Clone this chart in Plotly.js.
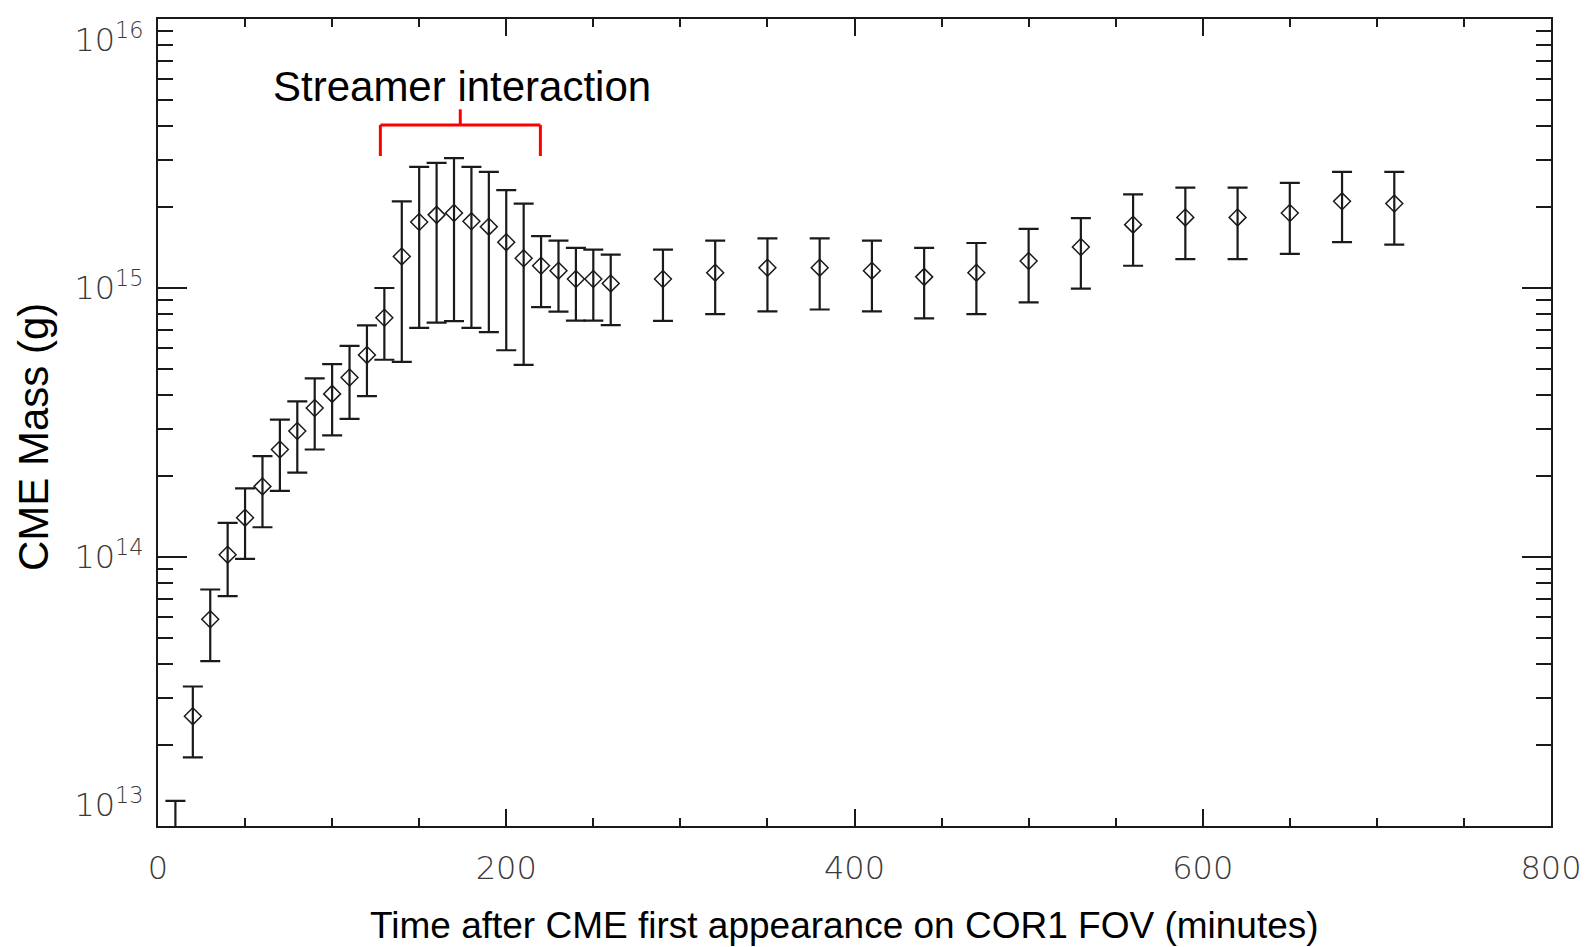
<!DOCTYPE html>
<html>
<head>
<meta charset="utf-8">
<script src="https://cdn.plot.ly/plotly-3.0.1.min.js"></script>
<style>
  html, body { margin: 0; padding: 0; background: #fff; }
  #chart { width: 1595px; height: 947px; }
</style>
</head>
<body>
<div id="chart"></div>
<script>
// Time after CME first appearance (minutes)
const timeMin = [10, 20, 30, 40, 50, 60, 70, 80, 90, 100, 110, 120, 130, 140, 150, 160, 170, 180, 190, 200,
                 210, 220, 230, 240, 250, 260, 290, 320, 350, 380, 410, 440, 470, 500, 530, 560, 590, 620, 650, 680, 710];
// CME mass (g), central value
const massG = [9e12, 2.56e13, 5.87e13, 1.02e14, 1.40e14, 1.83e14, 2.51e14, 2.94e14, 3.58e14, 4.04e14,
               4.65e14, 5.64e14, 7.75e14, 1.31e15, 1.76e15, 1.87e15, 1.90e15, 1.77e15, 1.69e15, 1.48e15,
               1.29e15, 1.21e15, 1.16e15, 1.08e15, 1.08e15, 1.04e15, 1.08e15, 1.14e15, 1.19e15, 1.19e15,
               1.16e15, 1.10e15, 1.14e15, 1.26e15, 1.42e15, 1.72e15, 1.83e15, 1.83e15, 1.90e15, 2.10e15, 2.06e15];
// Upper end of error bar (g)
const massUpper = [1.24e13, 3.30e13, 7.57e13, 1.34e14, 1.80e14, 2.37e14, 3.24e14, 3.79e14, 4.61e14, 5.21e14,
                   6.09e14, 7.26e14, 1.00e15, 2.10e15, 2.82e15, 2.92e15, 3.04e15, 2.82e15, 2.70e15, 2.31e15,
                   2.06e15, 1.56e15, 1.50e15, 1.41e15, 1.39e15, 1.33e15, 1.39e15, 1.50e15, 1.53e15, 1.53e15,
                   1.50e15, 1.41e15, 1.47e15, 1.66e15, 1.82e15, 2.23e15, 2.36e15, 2.36e15, 2.46e15, 2.70e15, 2.70e15];
// Lower end of error bar (g)
const massLower = [6e12, 1.80e13, 4.10e13, 7.15e13, 9.84e13, 1.29e14, 1.76e14, 2.06e14, 2.51e14, 2.83e14,
                   3.26e14, 3.96e14, 5.41e14, 5.31e14, 7.11e14, 7.43e14, 7.53e14, 7.11e14, 6.86e14, 5.87e14,
                   5.18e14, 8.49e14, 8.17e14, 7.56e14, 7.56e14, 7.28e14, 7.55e14, 8.00e14, 8.18e14, 8.32e14,
                   8.18e14, 7.71e14, 8.00e14, 8.84e14, 9.95e14, 1.21e15, 1.28e15, 1.28e15, 1.34e15, 1.48e15, 1.45e15];

const xTickVals = [0, 200, 400, 600, 800];
const yTickVals = [1e13, 1e14, 1e15, 1e16];
// edge labels are kept inside the frame, as in the original (bottom one raised, top one lowered)
const yTickText = ['10<sup>13</sup><br>&#8203;', '10<sup>14</sup>', '10<sup>15</sup>', '&#8203;<br>10<sup>16</sup>'];

const xTitle = 'Time after CME first appearance on COR1 FOV (minutes)';
const yTitle = 'CME Mass (g)';

// Streamer interaction bracket (minutes)
const bracketStart = 127.7;
const bracketEnd = 219.6;
const bracketMid = 173.6;
const bracketLabel = 'Streamer interaction';

const errPlus = massUpper.map((u, i) => u - massG[i]);
const errMinus = massG.map((m, i) => m - massLower[i]);

const ink = '#1a1a1a';
const tickFont = { family: 'DejaVu Sans', size: 32, color: '#3a3a3a', weight: 300 };
const textFont = 'Liberation Sans, Arial, sans-serif';

const trace = {
  x: timeMin,
  y: massG,
  type: 'scatter',
  mode: 'markers',
  marker: { symbol: 'diamond-open', size: 13, color: ink, line: { width: 1.5, color: ink } },
  error_y: { type: 'data', symmetric: false, array: errPlus, arrayminus: errMinus,
             color: ink, thickness: 2.2, width: 10 },
  hoverinfo: 'x+y'
};

const bracketY = 0.8687, legY = 0.8302, midTopY = 0.8881;
const red = '#ff0000';

const layout = {
  width: 1595, height: 947,
  margin: { l: 158, r: 44, t: 19, b: 121 },
  paper_bgcolor: '#ffffff', plot_bgcolor: '#ffffff',
  showlegend: false,
  xaxis: {
    range: [0, 800], tickvals: xTickVals, ticktext: xTickVals.map(String),
    ticks: 'inside', ticklen: 17, tickwidth: 2, tickcolor: ink,
    minor: { dtick: 50, ticks: 'inside', ticklen: 8, tickwidth: 2, tickcolor: ink, showgrid: false },
    showline: true, linewidth: 2, linecolor: ink, mirror: 'allticks',
    showgrid: false, zeroline: false,
    tickfont: tickFont, ticklabelstandoff: 13
  },
  yaxis: {
    type: 'log', range: [13, 16.000001], tickvals: yTickVals, ticktext: yTickText,
    ticks: 'inside', ticklen: 29, tickwidth: 2, tickcolor: ink,
    minor: { dtick: 'D1', ticks: 'inside', ticklen: 15, tickwidth: 2, tickcolor: ink, showgrid: false },
    showline: true, linewidth: 2, linecolor: ink, mirror: 'allticks',
    showgrid: false, zeroline: false, ticklabeloverflow: 'allow',
    tickfont: tickFont, ticklabelstandoff: 6
  },
  shapes: [
    { type: 'line', xref: 'x', yref: 'paper', x0: bracketStart, x1: bracketEnd, y0: bracketY, y1: bracketY,
      line: { color: red, width: 3 } },
    { type: 'line', xref: 'x', yref: 'paper', x0: bracketStart, x1: bracketStart, y0: bracketY, y1: legY,
      line: { color: red, width: 3 } },
    { type: 'line', xref: 'x', yref: 'paper', x0: bracketEnd, x1: bracketEnd, y0: bracketY, y1: legY,
      line: { color: red, width: 3 } },
    { type: 'line', xref: 'x', yref: 'paper', x0: bracketMid, x1: bracketMid, y0: bracketY, y1: midTopY,
      line: { color: red, width: 3 } }
  ],
  annotations: [
    { text: bracketLabel, xref: 'x', yref: 'paper', x: 174.8, y: 0.9164,
      xanchor: 'center', yanchor: 'middle', showarrow: false,
      font: { family: textFont, size: 42, color: '#000' } },
    { text: xTitle, xref: 'paper', yref: 'paper', x: 0.4925, y: -0.1239,
      xanchor: 'center', yanchor: 'middle', showarrow: false,
      font: { family: textFont, size: 37, color: '#000' } },
    { text: yTitle, xref: 'paper', yref: 'paper', x: -0.0897, y: 0.482, textangle: -90,
      xanchor: 'center', yanchor: 'middle', showarrow: false,
      font: { family: textFont, size: 42, color: '#000' } }
  ]
};

Plotly.newPlot('chart', [trace], layout, { displayModeBar: false, staticPlot: true });
</script>
</body>
</html>
